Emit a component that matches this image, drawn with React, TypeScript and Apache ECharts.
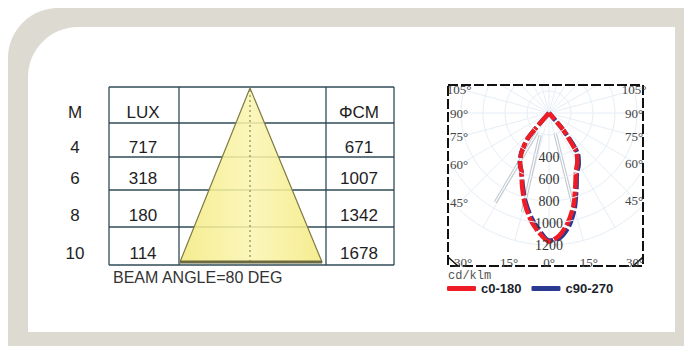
import React, { useEffect, useRef } from "react";
import * as echarts from "echarts";

// ---------- data ----------
const tableHeaders = ["M", "LUX", "ΦCM"];
const distances = [4, 6, 8, 10];
const luxValues = [717, 318, 180, 114];
const diameters = [671, 1007, 1342, 1678];
const beamAngle = 80;

const curveAngles = [-45, -40, -35, -30, -25, -20, -15, -10, -5, 0, 5, 10, 15, 20, 25, 30, 35, 40, 45];
const c0_180 = [0, 300, 434, 525, 594, 714, 851, 980, 1087, 1170, 1115, 1005, 865, 700, 580, 515, 430, 190, 0];
const c90_270 = [0, 290, 440, 530, 590, 700, 830, 955, 1065, 1160, 1140, 1045, 900, 730, 600, 540, 460, 210, 0];
const seriesNames = ["c0-180", "c90-270"];
const radiusLabels = [400, 600, 800, 1000, 1200];
const sideAngleLabels = [105, 90, 75, 60, 45];
const bottomAngleLabels = [-30, -15, 0, 15, 30];
const beamLine1 = [[204, -32], [947, -31]];
const beamLine2 = [[216, -22], [933, -15]];
const beamLine3 = [[190, 17], [865, 14.6]];
const unitLabel = "cd/klm";

// ---------- layout ----------
const CX = 549;
const CY = 113;
const PR = 132;
const RMAX = 1200;
const BOX = { x: 448, y: 85, w: 195, h: 181 };

echarts.graphic.registerShape(
  "panelFrame",
  echarts.graphic.extendPath(
    "M 58 8 H 684 V 346 H 8 V 58 A 50 50 0 0 1 58 8 Z M 78 27 A 50 50 0 0 0 28 77 V 332 H 675 V 27 Z",
    {}
  )
);

const deg = (a: number) => (a < 0 ? a + 360 : a);
const toPolar = (vals: number[]) => curveAngles.map((a, i) => [vals[i], deg(a)]);
const lineToPolar = (pts: number[][]) => pts.map((p) => [p[0], deg(p[1])]);

export default function App() {
  const ref = useRef<HTMLDivElement>(null);
  useEffect(() => {
    if (!ref.current) return;
    const chart = echarts.init(ref.current, undefined, { renderer: "svg" });

    const tableFont = '17px "Liberation Sans", Arial, sans-serif';
    const textColor = "#1e1e1e";
    const borderColor = "#2f4b57";
    const rowLines = [87, 123, 157, 190, 227, 265];
    const colLines = [109, 179, 326, 394];
    const textYs = [112, 147, 178, 215, 253];
    const colCenters = [75, 143, 359];

    const g: any[] = [];
    // white mask outside polar box
    const maskStyle = { fill: "#ffffff" };
    g.push({ type: "rect", z: 50, shape: { x: 0, y: 0, width: 684, height: BOX.y - 1 }, style: maskStyle });
    g.push({ type: "rect", z: 50, shape: { x: 0, y: BOX.y + BOX.h + 1, width: 684, height: 346 }, style: maskStyle });
    g.push({ type: "rect", z: 50, shape: { x: 0, y: 0, width: BOX.x - 1, height: 346 }, style: maskStyle });
    g.push({ type: "rect", z: 50, shape: { x: BOX.x + BOX.w + 1, y: 0, width: 100, height: 346 }, style: maskStyle });
    // frame
    g.push({ type: "panelFrame", z: 60, x: 0, y: 0, style: { fill: "#dddad2" } });

    // table lines
    rowLines.forEach((y) =>
      g.push({ type: "line", z: 70, shape: { x1: colLines[0], y1: y, x2: colLines[3], y2: y }, style: { stroke: borderColor, lineWidth: 1.3 } })
    );
    colLines.forEach((x) =>
      g.push({ type: "line", z: 70, shape: { x1: x, y1: rowLines[0], x2: x, y2: rowLines[5] }, style: { stroke: borderColor, lineWidth: 1.3 } })
    );
    // triangle
    g.push({
      type: "polygon",
      z: 71,
      shape: { points: [[250, 88], [180, 262], [322, 262]] },
      style: {
        fill: {
          type: "linear",
          x: 0,
          y: 0,
          x2: 1,
          y2: 0,
          colorStops: [
            { offset: 0, color: "rgba(244,234,128,0.88)" },
            { offset: 0.5, color: "rgba(250,245,175,0.85)" },
            { offset: 1, color: "rgba(244,234,128,0.88)" },
          ],
        },
        stroke: "#7e7b45",
        lineWidth: 1.2,
      },
    });
    g.push({ type: "line", z: 72, shape: { x1: 250, y1: 90, x2: 250, y2: 262 }, style: { stroke: "#77733a", lineWidth: 1, lineDash: [2, 3] } });
    g.push({ type: "line", z: 72, shape: { x1: 180, y1: 262, x2: 322, y2: 262 }, style: { stroke: "#6d6a3f", lineWidth: 3 } });

    // table texts
    const rows = [tableHeaders, ...distances.map((d, i) => [String(d), String(luxValues[i]), String(diameters[i])])];
    rows.forEach((r, ri) =>
      r.forEach((t, ci) =>
        g.push({
          type: "text",
          z: 73,
          x: colCenters[ci],
          y: textYs[ri],
          style: { text: t, fill: textColor, font: tableFont, align: "center", verticalAlign: "middle" },
        })
      )
    );
    g.push({
      type: "text",
      z: 73,
      x: 113,
      y: 277,
      style: {
        text: `BEAM ANGLE=${beamAngle} DEG`,
        fill: "#333",
        font: '16px "Liberation Sans", Arial, sans-serif',
        align: "left",
        verticalAlign: "middle",
      },
    });

    // polar box
    g.push({
      type: "rect",
      z: 80,
      shape: { x: BOX.x, y: BOX.y, width: BOX.w, height: BOX.h },
      style: { fill: "none", stroke: "#111", lineWidth: 2, lineDash: [10, 3] },
    });
    g.push({ type: "line", z: 80, shape: { x1: BOX.x, y1: BOX.y + BOX.h - 9, x2: BOX.x + 10, y2: BOX.y + BOX.h }, style: { stroke: "#111", lineWidth: 1.5 } });
    g.push({ type: "line", z: 80, shape: { x1: BOX.x + BOX.w, y1: BOX.y + BOX.h - 9, x2: BOX.x + BOX.w - 10, y2: BOX.y + BOX.h }, style: { stroke: "#111", lineWidth: 1.5 } });

    const angFont = '13px "Liberation Serif", "Times New Roman", serif';
    sideAngleLabels.forEach((a) => {
      const t = Math.tan((a * Math.PI) / 180);
      [[-89, 459], [87, 634]].forEach(([dx, lx]) => {
        g.push({
          type: "text",
          z: 81,
          x: lx,
          y: CY + Math.abs(dx) / t,
          style: { text: `${a}°`, fill: "#444", font: angFont, align: "center", verticalAlign: "middle" },
        });
      });
    });
    const bottomY = 262;
    bottomAngleLabels.forEach((a) => {
      g.push({
        type: "text",
        z: 81,
        x: CX + (bottomY - CY) * Math.tan((a * Math.PI) / 180),
        y: bottomY,
        style: { text: `${Math.abs(a)}°`, fill: "#444", font: angFont, align: "center", verticalAlign: "middle" },
      });
    });
    g.push({
      type: "text",
      z: 81,
      x: 448,
      y: 276,
      style: { text: unitLabel, fill: "#555", font: '12px "Liberation Mono", monospace', align: "left", verticalAlign: "middle" },
    });

    const beamSeries = (pts: number[][]) => [
      {
        type: "line",
        coordinateSystem: "polar",
        data: lineToPolar(pts),
        showSymbol: false,
        silent: true,
        z: 3,
        lineStyle: { color: "#c3cad2", width: 3.5 },
      },
      {
        type: "line",
        coordinateSystem: "polar",
        data: lineToPolar(pts),
        showSymbol: false,
        silent: true,
        z: 3,
        lineStyle: { color: "#ffffff", width: 1.2 },
      },
    ];

    chart.setOption({
      animation: false,
      polar: { center: [CX, CY], radius: PR },
      angleAxis: {
        type: "value",
        min: 0,
        max: 360,
        interval: 15,
        startAngle: 270,
        clockwise: false,
        axisLine: { show: false },
        axisTick: { show: false },
        axisLabel: { show: false },
        splitLine: { show: true, lineStyle: { color: "#e6eef6", width: 1 } },
      },
      radiusAxis: {
        type: "value",
        min: 0,
        max: RMAX,
        interval: 200,
        z: 10,
        axisLine: { show: false },
        axisTick: { show: false },
        axisLabel: {
          margin: 0,
          align: "center",
          verticalAlign: "middle",
          color: "#333",
          fontFamily: '"Liberation Serif", "Times New Roman", serif',
          fontSize: 14,
          formatter: (v: number) => (radiusLabels.includes(v) ? String(v) : ""),
        },
        splitLine: { show: true, lineStyle: { color: "#e6eef6", width: 1 } },
      },
      legend: {
        data: seriesNames,
        left: 447,
        top: 282,
        padding: 0,
        z: 90,
        icon: "roundRect",
        itemWidth: 29,
        itemHeight: 5,
        itemGap: 10,
        textStyle: { fontFamily: '"Liberation Sans", Arial, sans-serif', fontWeight: "bold", fontSize: 13, color: "#1c1f2e" },
      },
      graphic: g,
      series: [
        ...beamSeries(beamLine1),
        ...beamSeries(beamLine2),
        ...beamSeries(beamLine3),
        {
          name: seriesNames[1],
          type: "line",
          coordinateSystem: "polar",
          data: toPolar(c90_270),
          showSymbol: false,
          smooth: 0.25,
          z: 4,
          color: "#2b3990",
          lineStyle: { color: "#2b3990", width: 4.5, type: [16, 3] },
        },
        {
          name: seriesNames[0],
          type: "line",
          coordinateSystem: "polar",
          data: toPolar(c0_180),
          showSymbol: false,
          smooth: 0.25,
          z: 5,
          color: "#ee1c25",
          lineStyle: { color: "#ee1c25", width: 4.5, type: [16, 3] },
        },
      ],
    });
    return () => chart.dispose();
  }, []);
  return (
    <div
      ref={ref}
      style={{ position: "fixed", left: 0, top: 0, width: 684, height: 346, background: "#ffffff" }}
    />
  );
}
